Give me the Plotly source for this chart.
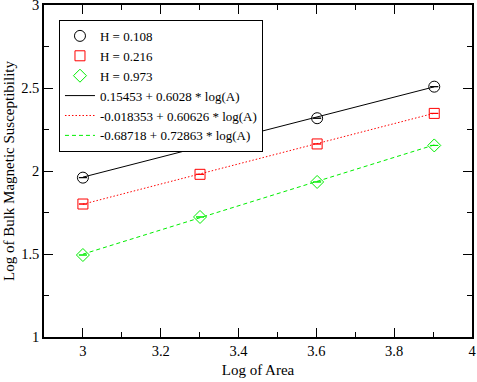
import plotly.graph_objects as go

# log10 of area (1000, 2000, 4000, 8000)
log_area = [3.0, 3.301, 3.602, 3.903]

# measured points per field strength
h_labels = ["H = 0.108", "H = 0.216", "H = 0.973"]
chi_h0108 = [1.960, 2.152, 2.318, 2.508]
chi_h0216 = [1.801, 1.980, 2.163, 2.347]
chi_h0973 = [1.494, 1.723, 1.934, 2.154]

# fitted lines (values at the same x positions)
fit_labels = [
    "0.15453 + 0.6028 * log(A)",
    "-0.018353 + 0.60626 * log(A)",
    "-0.68718 + 0.72863 * log(A)",
]
fit_h0108 = [1.963, 2.145, 2.326, 2.507]
fit_h0216 = [1.800, 1.983, 2.165, 2.348]
fit_h0973 = [1.499, 1.718, 1.937, 2.157]

FONT = "Liberation Serif, Times New Roman, serif"
GREEN = "#00ee00"

fig = go.Figure()

marker_styles = [
    ("circle-open", "black", 11),
    ("square-open", "#ff0000", 10),
    ("diamond-open", GREEN, 10),
]
for label, ys, (sym, col, sz) in zip(h_labels, [chi_h0108, chi_h0216, chi_h0973], marker_styles):
    fig.add_trace(go.Scatter(
        x=log_area, y=ys, mode="markers", name=label,
        marker=dict(symbol=sym, color=col, size=sz, line=dict(color=col, width=1)),
        error_y=dict(type="data", array=[0] * len(ys), width=4, thickness=1, color=col),
    ))

line_styles = [("black", "solid"), ("#ff0000", "1.5px,2px"), (GREEN, "4px,3px")]
for label, ys, (col, dash) in zip(fit_labels, [fit_h0108, fit_h0216, fit_h0973], line_styles):
    fig.add_trace(go.Scatter(
        x=log_area, y=ys, mode="lines", name=label,
        line=dict(color=col, width=1, dash=dash),
    ))

axis_common = dict(
    showgrid=False, zeroline=False, showline=True, linecolor="black", linewidth=1.5,
    mirror="ticks", ticks="inside", ticklen=9, tickcolor="black", tickwidth=1,
    tickfont=dict(family=FONT, size=14.5, color="black"), automargin=False,
    ticklabeloverflow="allow",
)

fig.update_layout(
    width=477, height=382,
    margin=dict(l=44, r=5, t=5, b=45),
    paper_bgcolor="white", plot_bgcolor="white",
    font=dict(family=FONT, size=13, color="black"),
    xaxis=dict(
        range=[2.9, 4], tickvals=[3, 3.2, 3.4, 3.6, 3.8, 4],
        ticktext=["3", "3.2", "3.4", "3.6", "3.8", "4"],
        minor=dict(dtick=0.1, tick0=2.9, ticks="inside", ticklen=5, tickcolor="black"),
        title=dict(text="Log of Area", font=dict(family=FONT, size=15), standoff=6),
        **axis_common,
    ),
    yaxis=dict(
        range=[1, 3], tickvals=[1, 1.5, 2, 2.5, 3],
        ticktext=["1", "1.5", "2", "2.5", "3"],
        minor=dict(dtick=0.25, tick0=1, ticks="inside", ticklen=5, tickcolor="black"),
        title=dict(text="Log of Bulk Magnetic Susceptibility", font=dict(family=FONT, size=15), standoff=3),
        **axis_common,
    ),
    legend=dict(
        x=0.035, y=0.955, xanchor="left", yanchor="top",
        bgcolor="white", bordercolor="black", borderwidth=1,
        font=dict(family=FONT, size=13), itemwidth=30, tracegroupgap=0,
    ),
    showlegend=True,
)

# drop the default page margin so the figure sits at the window's corner
fig.write_html("out.html", config={"displayModeBar": False},
               post_script="document.body.style.margin='0';")
